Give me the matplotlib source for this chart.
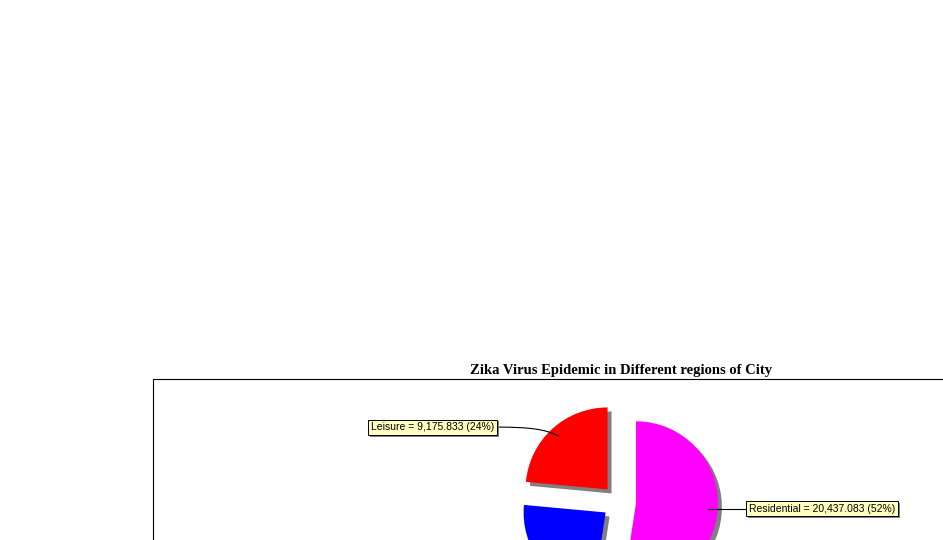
import numpy as np
import matplotlib
matplotlib.use("Agg")
import matplotlib.pyplot as plt
from matplotlib.patches import Rectangle, PathPatch
from matplotlib.path import Path
import matplotlib.patheffects as pe

# data
categories = ["Residential", "Commercial", "Leisure"]
values = [20437.083, 9380.0, 9175.833]
colors = ["#FF00FF", "#0000FF", "#FF0000"]
shown_labels = ["Residential", "Leisure"]
title = "Zika Virus Epidemic in Different regions of City"

W, H = 943, 540
R = 82            # pie radius in px
CX, CY = 619, H - 502
EXPL = 17         # explode offset in px
SHADOW = 4

fig = plt.figure(figsize=(W / 100, H / 100), dpi=100)
ax = fig.add_axes([0, 0, 1, 1])

# shadow pie, then the real one
ax.pie(values, colors=["#808080"] * 3, startangle=90, counterclock=False,
       radius=R, center=(CX + SHADOW, CY - SHADOW), explode=[EXPL] * 3,
       wedgeprops=dict(linewidth=0))
ax.pie(values, colors=colors, startangle=90, counterclock=False,
       radius=R, center=(CX, CY), explode=[EXPL] * 3,
       wedgeprops=dict(linewidth=0))

ax.set_xlim(0, W)
ax.set_ylim(0, H)
ax.set_aspect("equal")
ax.axis("off")

# plot area outline (extends past the canvas)
ax.add_patch(Rectangle((153, -200), 1200, 200 + H - 379, fill=False,
                       edgecolor="black", linewidth=0.8))

ax.text(621, H - 374, title, ha="center", va="baseline",
        family="Liberation Serif", fontweight="bold", fontsize=10.5)

# labels with link lines
total = sum(values)
start = 0.0
for name, v in zip(categories, values):
    frac = v / total
    mid = np.radians(360 * (start + frac / 2))   # clockwise from 12 o'clock
    start += frac
    dx, dy = np.sin(mid), np.cos(mid)
    apex = (CX + EXPL * dx, CY + EXPL * dy)
    anchor = (apex[0] + 0.88 * R * dx, apex[1] + 0.88 * R * dy)
    if name not in shown_labels:
        continue
    txt = f"{name} = {v:,.3f} ({round(100 * frac):.0f}%)"
    bbox = dict(boxstyle="square,pad=0.25", fc="#FFFFC0", ec="black", lw=0.7)
    if dx >= 0:
        lx, ly = 746, anchor[1]
        ax.plot([anchor[0], lx], [anchor[1], ly], color="black", lw=0.8)
        t = ax.text(lx + 3, ly, txt, ha="left", va="center", fontsize=7.5,
                    family="Liberation Sans", bbox=bbox)
    else:
        lx, ly = 497, anchor[1] + 9
        path = Path([(lx, ly), (lx + 33, ly), (anchor[0] - 14, anchor[1] + 7), anchor],
                    [Path.MOVETO, Path.CURVE4, Path.CURVE4, Path.CURVE4])
        ax.add_patch(PathPatch(path, fill=False, edgecolor="black", lw=0.8))
        t = ax.text(lx - 3, ly, txt, ha="right", va="center", fontsize=7.5,
                    family="Liberation Sans", bbox=bbox)
    t.get_bbox_patch().set_path_effects(
        [pe.SimplePatchShadow(offset=(1.4, -1.4), shadow_rgbFace="#808080", alpha=1),
         pe.Normal()])

fig.savefig("out.png", dpi=100)
